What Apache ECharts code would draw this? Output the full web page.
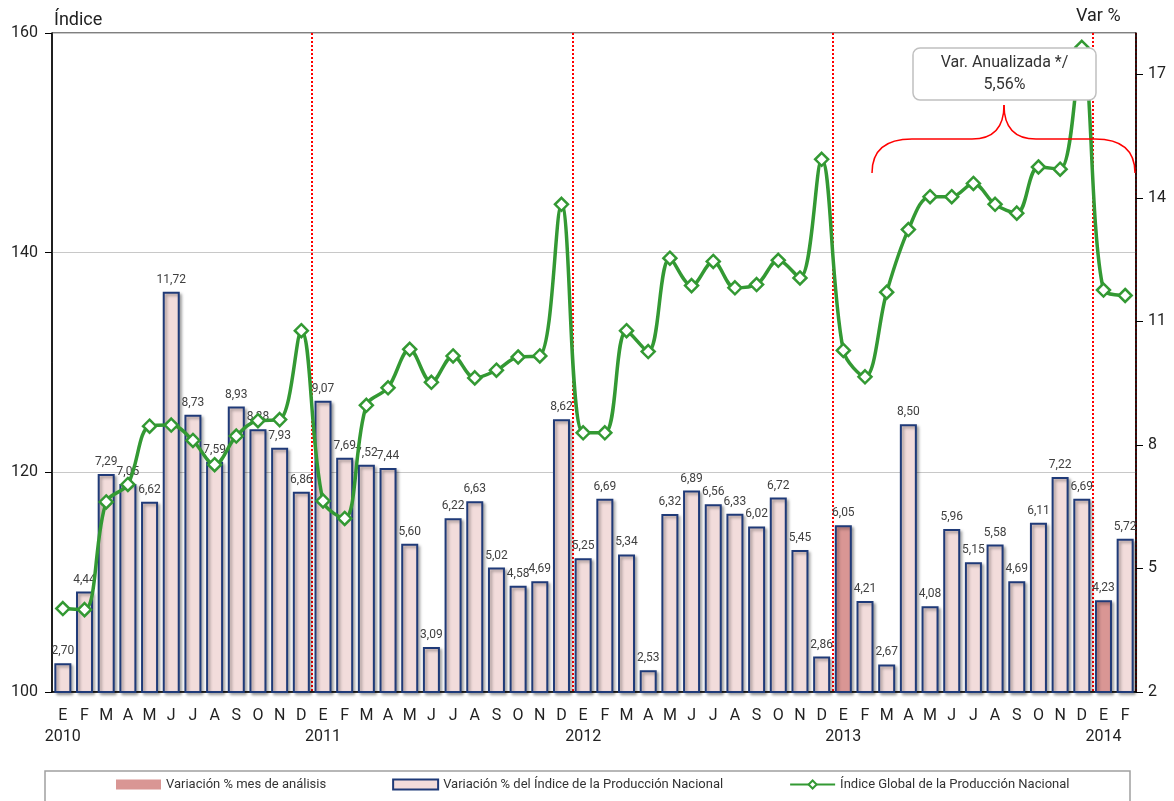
<!DOCTYPE html>
<html>
<head>
    <meta charset="utf-8">
    <title>Producción Nacional</title>
    <script src="https://cdn.jsdelivr.net/npm/echarts@6/dist/echarts.min.js"></script>
    <style>
        body { margin: 0; background: #fff; }
    </style>
</head>
<body>
<div id="main" style="width: 1174px;height:801px;"></div>
<script type="text/javascript">
    // meses E..D, años debajo del mes de enero
    var meses = ['E', 'F', 'M', 'A', 'M', 'J', 'J', 'A', 'S', 'O', 'N', 'D'];
    var anios = ['2010', '2011', '2012', '2013', '2014'];

    // variación % del índice (barras, eje derecho)
    var variacion = [
        2.70, 4.44, 7.29, 7.05, 6.62, 11.72, 8.73, 7.59, 8.93, 8.38, 7.93, 6.86,
        9.07, 7.69, 7.52, 7.44, 5.60, 3.09, 6.22, 6.63, 5.02, 4.58, 4.69, 8.62,
        5.25, 6.69, 5.34, 2.53, 6.32, 6.89, 6.56, 6.33, 6.02, 6.72, 5.45, 2.86,
        6.05, 4.21, 2.67, 8.50, 4.08, 5.96, 5.15, 5.58, 4.69, 6.11, 7.22, 6.69,
        4.23, 5.72
    ];
    // meses de análisis (enero 2013 y enero 2014)
    var mesAnalisis = [36, 48];

    // índice global de la producción nacional (línea, eje izquierdo)
    var indice = [
        107.6, 107.5, 117.3, 118.9, 124.2, 124.3, 122.9, 120.7, 123.3, 124.7, 124.8, 132.9,
        117.4, 115.8, 126.1, 127.7, 131.2, 128.2, 130.6, 128.6, 129.3, 130.5, 130.6, 144.4,
        123.6, 123.6, 132.9, 131.0, 139.5, 137.0, 139.2, 136.8, 137.1, 139.3, 137.7, 148.5,
        131.1, 128.7, 136.4, 142.1, 145.1, 145.1, 146.3, 144.4, 143.6, 147.8, 147.6, 158.7,
        136.6, 136.1
    ];

    var categorias = [];
    for (var i = 0; i < variacion.length; i++) {
        categorias.push(meses[i % 12] + (i % 12 === 0 ? '\n' + anios[Math.floor(i / 12)] : ''));
    }

    var barrasAnalisis = [], barrasResto = [];
    variacion.forEach(function (v, i) {
        if (mesAnalisis.indexOf(i) >= 0) {
            barrasAnalisis.push(v);
            barrasResto.push('-');
        } else {
            barrasAnalisis.push('-');
            barrasResto.push(v);
        }
    });

    var fuente = "'Liberation Sans Narrow', 'Arial Narrow', 'Roboto', sans-serif";
    var etiqueta = {
        show: true,
        position: 'top',
        distance: 6,
        color: '#404040',
        fontSize: 12,
        fontFamily: fuente,
        formatter: function (p) { return p.value.toFixed(2).replace('.', ','); }
    };
    var sombra = {shadowColor: 'rgba(0,0,0,0.35)', shadowBlur: 3, shadowOffsetX: 2, shadowOffsetY: 2};
    var rojo = {fill: 'none', stroke: '#ff0000', lineWidth: 1.5};

    var myChart = echarts.init(document.getElementById('main'));
    option = {
        backgroundColor: '#fff',
        textStyle: {fontFamily: fuente},
        animation: false,
        grid: {left: 52, right: 38, top: 33, bottom: 109, show: true, borderColor: '#000', borderWidth: 1},
        legend: {
            top: 778,
            left: 116,
            padding: 0,
            itemWidth: 45,
            itemHeight: 10,
            itemGap: 66,
            textStyle: {fontSize: 13, color: '#333', fontFamily: fuente},
            data: [
                {name: 'Variación % mes de análisis', icon: 'rect', itemStyle: {borderWidth: 0, shadowBlur: 0, shadowOffsetX: 0, shadowOffsetY: 0}},
                {name: 'Variación % del Índice de la Producción Nacional', icon: 'rect', itemStyle: {shadowBlur: 0, shadowOffsetX: 0, shadowOffsetY: 0}},
                {name: 'Índice Global de la Producción Nacional'}
            ]
        },
        xAxis: [{
            type: 'category',
            data: categorias,
            axisLine: {lineStyle: {color: '#000', width: 1.5}},
            axisTick: {
                length: 8,
                lineStyle: {color: '#000'},
                interval: function (i) { return i % 12 === 0; }
            },
            axisLabel: {
                interval: 0,
                margin: 13,
                color: '#222',
                fontSize: 16,
                lineHeight: 21,
                fontFamily: fuente
            },
            splitLine: {
                show: true,
                interval: function (i) { return i > 0 && i % 12 === 0; },
                lineStyle: {color: '#ff0000', type: 'dotted', width: 2}
            }
        }],
        yAxis: [{
            type: 'value',
            min: 100,
            max: 160,
            interval: 20,
            axisLine: {show: true, lineStyle: {color: '#000', width: 1.5}},
            axisTick: {show: true, length: 7, lineStyle: {color: '#000'}},
            axisLabel: {margin: 14, color: '#222', fontSize: 16, fontFamily: fuente},
            splitLine: {show: true, lineStyle: {color: '#c8c8c8', width: 1}}
        }, {
            type: 'value',
            min: 2,
            max: 18,
            interval: 3,
            position: 'right',
            axisLine: {show: true, lineStyle: {color: '#000', width: 1.5}},
            axisTick: {show: true, length: 7, lineStyle: {color: '#000'}},
            axisLabel: {margin: 12, color: '#222', fontSize: 16, fontFamily: fuente, showMaxLabel: false},
            splitLine: {show: false}
        }],
        series: [{
            name: 'Variación % mes de análisis',
            type: 'bar',
            yAxisIndex: 1,
            barWidth: 17,
            barGap: '-100%',
            data: barrasAnalisis,
            itemStyle: Object.assign({color: '#d99694', borderColor: '#1f3a78', borderWidth: 2}, sombra),
            label: etiqueta,
            z: 2
        }, {
            name: 'Variación % del Índice de la Producción Nacional',
            type: 'bar',
            yAxisIndex: 1,
            barWidth: 17,
            barGap: '-100%',
            data: barrasResto,
            itemStyle: Object.assign({color: '#f2dcdb', borderColor: '#1f3a78', borderWidth: 2}, sombra),
            label: etiqueta,
            z: 2
        }, {
            name: 'Índice Global de la Producción Nacional',
            type: 'line',
            yAxisIndex: 0,
            data: indice,
            smooth: 0.35,
            symbol: 'diamond',
            symbolSize: 13,
            lineStyle: {color: '#339933', width: 3.5},
            itemStyle: {color: '#fff', borderColor: '#339933', borderWidth: 2.5},
            z: 5
        }],
        graphic: [
            {type: 'text', x: 54, y: 11, style: {text: 'Índice', fontSize: 18, fill: '#222', fontFamily: fuente}},
            {type: 'text', x: 1076, y: 7, style: {text: 'Var %', fontSize: 18, fill: '#222', fontFamily: fuente}},
            {
                type: 'rect', shape: {x: 45, y: 771, width: 1085, height: 50},
                style: {fill: 'none', stroke: '#a0a0a0', lineWidth: 1.5}, z: 0
            },
            {
                type: 'rect', shape: {x: 913, y: 48, width: 183, height: 52, r: 7},
                style: {fill: '#fff', stroke: '#c0c0c0', lineWidth: 1.5}, z: 10
            },
            {
                type: 'text', x: 1004.5, y: 74, z: 11,
                style: {
                    text: 'Var. Anualizada */\n5,56%', fontSize: 16, lineHeight: 22, fill: '#333',
                    align: 'center', verticalAlign: 'middle', fontFamily: fuente
                }
            },
            // llave roja
            {type: 'bezierCurve', z: 10, shape: {x1: 872, y1: 173, cpx1: 872, cpy1: 139, x2: 912, y2: 139}, style: rojo},
            {type: 'line', z: 10, shape: {x1: 912, y1: 139, x2: 972, y2: 139}, style: rojo},
            {type: 'bezierCurve', z: 10, shape: {x1: 972, y1: 139, cpx1: 1004, cpy1: 139, x2: 1004, y2: 105}, style: rojo},
            {type: 'bezierCurve', z: 10, shape: {x1: 1004, y1: 105, cpx1: 1004, cpy1: 139, x2: 1036, y2: 139}, style: rojo},
            {type: 'line', z: 10, shape: {x1: 1036, y1: 139, x2: 1095, y2: 139}, style: rojo},
            {type: 'bezierCurve', z: 10, shape: {x1: 1095, y1: 139, cpx1: 1135, cpy1: 139, x2: 1135, y2: 173}, style: rojo}
        ]
    };
    myChart.setOption(option);
</script>
</body>
</html>
